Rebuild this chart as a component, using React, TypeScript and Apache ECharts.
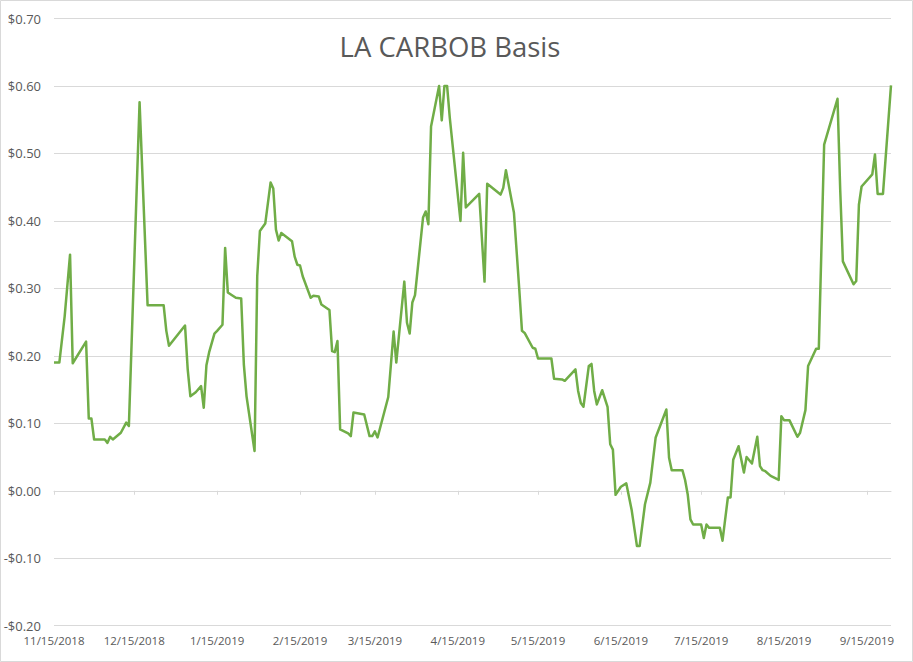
import React, { useEffect, useRef } from "react";
import * as echarts from "echarts";

const TITLE = "LA CARBOB Basis";

const dates: string[] = [
  "2018-11-15", "2018-11-17", "2018-11-19", "2018-11-21", "2018-11-22", "2018-11-27", "2018-11-28", "2018-11-29",
  "2018-11-30", "2018-12-04", "2018-12-05", "2018-12-06", "2018-12-07", "2018-12-10", "2018-12-12", "2018-12-13",
  "2018-12-17", "2018-12-20", "2018-12-26", "2018-12-27", "2018-12-28",
  "2019-01-03", "2019-01-04", "2019-01-05", "2019-01-07", "2019-01-09", "2019-01-10", "2019-01-11", "2019-01-12",
  "2019-01-14", "2019-01-15", "2019-01-17", "2019-01-18", "2019-01-19", "2019-01-22", "2019-01-24", "2019-01-25",
  "2019-01-26", "2019-01-29", "2019-01-30", "2019-01-31",
  "2019-02-02", "2019-02-04", "2019-02-05", "2019-02-06", "2019-02-07", "2019-02-08", "2019-02-12", "2019-02-13",
  "2019-02-14", "2019-02-15", "2019-02-16", "2019-02-19", "2019-02-20", "2019-02-22", "2019-02-23", "2019-02-26",
  "2019-02-27", "2019-02-28",
  "2019-03-01", "2019-03-02", "2019-03-05", "2019-03-06", "2019-03-07", "2019-03-11", "2019-03-13", "2019-03-14",
  "2019-03-15", "2019-03-16", "2019-03-20", "2019-03-22", "2019-03-23", "2019-03-26", "2019-03-27", "2019-03-28",
  "2019-03-29", "2019-03-30",
  "2019-04-02", "2019-04-03", "2019-04-04", "2019-04-05", "2019-04-08", "2019-04-09", "2019-04-10", "2019-04-11",
  "2019-04-12", "2019-04-16", "2019-04-17", "2019-04-18", "2019-04-23", "2019-04-25", "2019-04-26",
  "2019-05-01", "2019-05-02", "2019-05-03", "2019-05-06", "2019-05-08", "2019-05-09", "2019-05-10", "2019-05-13",
  "2019-05-14", "2019-05-15", "2019-05-20", "2019-05-21", "2019-05-24", "2019-05-25", "2019-05-29", "2019-05-30",
  "2019-05-31",
  "2019-06-01", "2019-06-03", "2019-06-04", "2019-06-05", "2019-06-06", "2019-06-08", "2019-06-10", "2019-06-11",
  "2019-06-12", "2019-06-13", "2019-06-15", "2019-06-17", "2019-06-19", "2019-06-21", "2019-06-22", "2019-06-24",
  "2019-06-26", "2019-06-28",
  "2019-07-02", "2019-07-03", "2019-07-04", "2019-07-08", "2019-07-09", "2019-07-10", "2019-07-11", "2019-07-12",
  "2019-07-15", "2019-07-16", "2019-07-17", "2019-07-18", "2019-07-22", "2019-07-23", "2019-07-25", "2019-07-26",
  "2019-07-27", "2019-07-29", "2019-07-31",
  "2019-08-01", "2019-08-03", "2019-08-05", "2019-08-06", "2019-08-07", "2019-08-08", "2019-08-10", "2019-08-13",
  "2019-08-14", "2019-08-15", "2019-08-17", "2019-08-20", "2019-08-21", "2019-08-23", "2019-08-24", "2019-08-27",
  "2019-08-28", "2019-08-30",
  "2019-09-04", "2019-09-05", "2019-09-06", "2019-09-10", "2019-09-11", "2019-09-12", "2019-09-13", "2019-09-17",
  "2019-09-18", "2019-09-19", "2019-09-21", "2019-09-24",
];

const values: number[] = [
  0.19, 0.19, 0.259, 0.35, 0.189, 0.221, 0.107, 0.107,
  0.076, 0.076, 0.071, 0.08, 0.076, 0.086, 0.101, 0.096,
  0.576, 0.275, 0.275, 0.237, 0.215,
  0.245, 0.18, 0.14, 0.146, 0.155, 0.123, 0.186, 0.205,
  0.233, 0.237, 0.246, 0.36, 0.294, 0.286, 0.285, 0.187,
  0.14, 0.059, 0.318, 0.385,
  0.396, 0.457, 0.448, 0.387, 0.371, 0.382, 0.37, 0.347,
  0.335, 0.334, 0.318, 0.286, 0.289, 0.288, 0.276, 0.268,
  0.207, 0.2055,
  0.222, 0.091, 0.085, 0.081, 0.116, 0.113, 0.081, 0.081,
  0.088, 0.079, 0.139, 0.236, 0.19, 0.31, 0.249, 0.233,
  0.279, 0.29,
  0.405, 0.414, 0.395, 0.54, 0.6, 0.549, 0.6, 0.6,
  0.553, 0.4, 0.501, 0.42, 0.44, 0.31, 0.455,
  0.439, 0.449, 0.475, 0.412, 0.298, 0.237, 0.234, 0.212,
  0.2105, 0.196, 0.196, 0.166, 0.165, 0.163, 0.18, 0.148,
  0.13,
  0.1245, 0.185, 0.188, 0.148, 0.128, 0.149, 0.1245, 0.069,
  0.061, -0.006, 0.006, 0.011, -0.028, -0.082, -0.082, -0.02,
  0.012, 0.079,
  0.1205, 0.049, 0.0305, 0.0305, 0.016, -0.006, -0.0425, -0.05,
  -0.05, -0.07, -0.05, -0.055, -0.055, -0.074, -0.01, -0.01,
  0.046, 0.066, 0.027,
  0.05, 0.0405, 0.08, 0.0365, 0.0305, 0.029, 0.022, 0.016,
  0.1106, 0.1047, 0.1047, 0.08, 0.086, 0.1195, 0.185, 0.2105,
  0.2105, 0.513,
  0.581, 0.447, 0.34, 0.306, 0.311, 0.424, 0.451, 0.469,
  0.4985, 0.44, 0.44, 0.601,
];

const xTickLabels: string[] = [
  "11/15/2018", "12/15/2018", "1/15/2019", "2/15/2019", "3/15/2019", "4/15/2019",
  "5/15/2019", "6/15/2019", "7/15/2019", "8/15/2019", "9/15/2019",
];

const X_MIN = "2018-11-15";
const X_MAX = "2019-09-24";
const Y_MIN = -0.2;
const Y_MAX = 0.7;
const Y_STEP = 0.1;

function parseMDY(s: string): number {
  const [m, d, y] = s.split("/").map(Number);
  return new Date(y, m - 1, d).getTime();
}
function parseISO(s: string): number {
  const [y, m, d] = s.split("-").map(Number);
  return new Date(y, m - 1, d).getTime();
}
function fmtDate(v: number): string {
  const d = new Date(v);
  return `${d.getMonth() + 1}/${d.getDate()}/${d.getFullYear()}`;
}
function fmtMoney(v: number): string {
  const r = Math.round(v * 100) / 100;
  return (r < 0 ? "-" : "") + "$" + Math.abs(r).toFixed(2);
}

export default function App() {
  const ref = useRef<HTMLDivElement>(null);
  useEffect(() => {
    if (!ref.current) return;
    const chart = echarts.init(ref.current, null, { renderer: "svg" });
    const tickVals = xTickLabels.map(parseMDY);
    const xMin = parseISO(X_MIN);
    const xMax = parseISO(X_MAX);
    const font = "'Open Sans', sans-serif";
    chart.setOption({
      animation: false,
      backgroundColor: "#ffffff",
      grid: {
        left: 54,
        right: 22,
        top: 18.5,
        bottom: 36.3,
        containLabel: false,
        outerBoundsMode: "none",
      },
      graphic: [
        {
          type: "rect",
          shape: { x: 0.5, y: 0.5, width: 912, height: 661 },
          style: { fill: "none", stroke: "#d9d9d9", lineWidth: 1 },
          silent: true,
        },
        {
          type: "text",
          x: 450,
          y: 46.5,
          style: {
            text: TITLE,
            fontFamily: font,
            fontSize: 27.5,
            fill: "#595959",
            align: "center",
            verticalAlign: "middle",
          },
          silent: true,
        },
      ],
      xAxis: [
        {
          type: "value",
          min: xMin,
          max: xMax,
          position: "bottom",
          axisLine: { show: false, onZero: false },
          axisTick: { show: false },
          splitLine: { show: false },
          axisLabel: {
            customValues: tickVals,
            formatter: (v: number) => fmtDate(v),
            color: "#595959",
            fontFamily: font,
            fontSize: 11.5,
            margin: 9,
            hideOverlap: false,
            showMinLabel: true,
            showMaxLabel: true,
          },
        },
        {
          type: "value",
          min: xMin,
          max: xMax,
          position: "bottom",
          axisLine: { show: true, onZero: true, lineStyle: { color: "#d9d9d9", width: 1 } },
          axisTick: {
            show: true,
            customValues: tickVals,
            length: 4,
            inside: false,
            lineStyle: { color: "#d9d9d9", width: 1 },
          },
          axisLabel: { show: false },
          splitLine: { show: false },
        },
      ],
      yAxis: {
        type: "value",
        min: Y_MIN,
        max: Y_MAX,
        interval: Y_STEP,
        axisLine: { show: false },
        axisTick: { show: false },
        splitLine: { show: true, lineStyle: { color: "#d9d9d9", width: 1 } },
        axisLabel: {
          formatter: (v: number) => fmtMoney(v),
          color: "#595959",
          fontFamily: font,
          fontSize: 13,
          margin: 13,
        },
      },
      series: [
        {
          type: "line",
          xAxisIndex: 0,
          data: dates.map((d, i) => [parseISO(d), values[i]]),
          showSymbol: false,
          symbol: "none",
          lineStyle: { color: "#70ad47", width: 2.5, join: "round" },
          itemStyle: { color: "#70ad47" },
        },
      ],
    });
    return () => chart.dispose();
  }, []);
  return (
    <div
      ref={ref}
      style={{ position: "fixed", left: 0, top: 0, width: 913, height: 662, background: "#fff" }}
    />
  );
}
